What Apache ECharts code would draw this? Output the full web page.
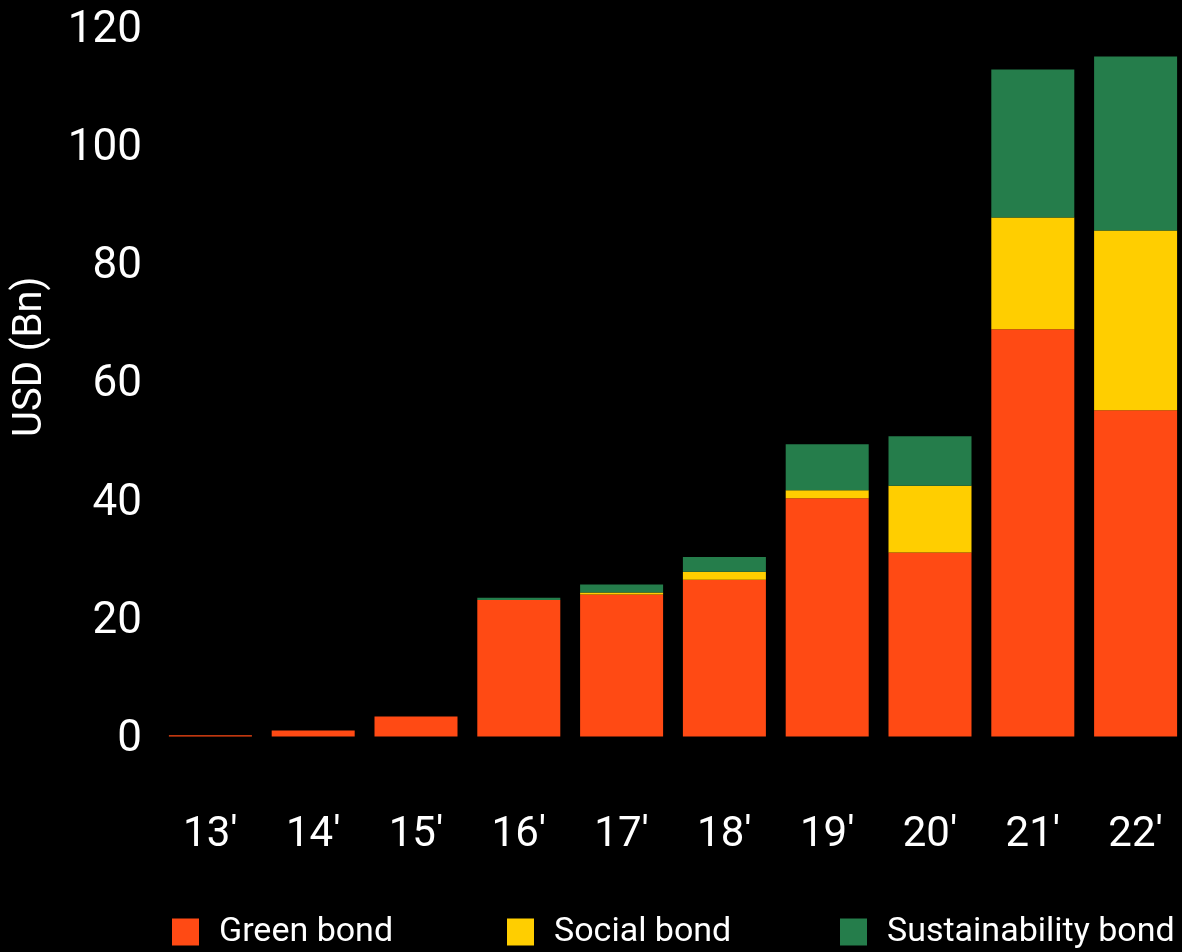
<!DOCTYPE html>
<html>
<head>
<meta charset="utf-8">
<script src="https://cdn.jsdelivr.net/npm/echarts@6/dist/echarts.min.js"></script>
<style>
html,body{margin:0;padding:0;background:#000;overflow:hidden;}
#chart{width:1192px;height:952px;}
</style>
</head>
<body>
<div id="chart"></div>
<script>
var categories = ["13'", "14'", "15'", "16'", "17'", "18'", "19'", "20'", "21'", "22'"];
var greenBond = [0.2, 1.0, 3.4, 23.1, 24.0, 26.5, 40.3, 31.1, 68.9, 55.2];
var socialBond = [0, 0, 0, 0, 0.35, 1.35, 1.35, 11.3, 18.9, 30.4];
var sustainabilityBond = [0, 0, 0, 0.35, 1.35, 2.5, 7.8, 8.4, 25.0, 29.4];
var yTicks = [0, 20, 40, 60, 80, 100, 120];
var seriesNames = ['Green bond', 'Social bond', 'Sustainability bond'];

var FONT = 'Roboto';
var chart = echarts.init(document.getElementById('chart'));
function barSeries(name, data, color) {
  return {
    name: name, type: 'bar', stack: 'total', data: data,
    barWidth: 83,
    itemStyle: { color: color },
    emphasis: { disabled: true }
  };
}
function legendItem(name, left) {
  return {
    left: left, top: 915, padding: 0,
    itemWidth: 27, itemHeight: 27,
    icon: 'rect',
    textStyle: { color: '#ffffff', fontFamily: FONT, fontSize: 34, padding: [0, 0, 0, 15] },
    data: [name]
  };
}
chart.setOption({
  backgroundColor: '#000000',
  animation: false,
  grid: { left: 159, top: 27, width: 1028, height: 709.5 },
  xAxis: {
    type: 'category', data: categories,
    axisLine: { show: false }, axisTick: { show: false },
    axisLabel: { color: '#ffffff', fontFamily: FONT, fontSize: 42, margin: 78 }
  },
  yAxis: {
    type: 'value', min: yTicks[0], max: yTicks[yTicks.length - 1], interval: 20,
    splitLine: { show: false }, axisLine: { show: false }, axisTick: { show: false },
    axisLabel: {
      color: '#ffffff', fontFamily: FONT, fontSize: 44, margin: 17,
      formatter: '{v|{value}}',
      rich: { v: { color: '#ffffff', fontFamily: FONT, fontSize: 44, padding: [7, 0, 0, 0] } }
    },
    name: 'USD (Bn)', nameLocation: 'middle', nameRotate: 90, nameGap: 108,
    nameTextStyle: { color: '#ffffff', fontFamily: FONT, fontSize: 40, padding: [0, 0, 0, 50] }
  },
  legend: [
    legendItem(seriesNames[0], 172),
    legendItem(seriesNames[1], 507),
    legendItem(seriesNames[2], 840)
  ],
  series: [
    barSeries(seriesNames[0], greenBond, '#FF4A14'),
    barSeries(seriesNames[1], socialBond, '#FFCE00'),
    barSeries(seriesNames[2], sustainabilityBond, '#257D4B')
  ]
});
</script>
</body>
</html>
